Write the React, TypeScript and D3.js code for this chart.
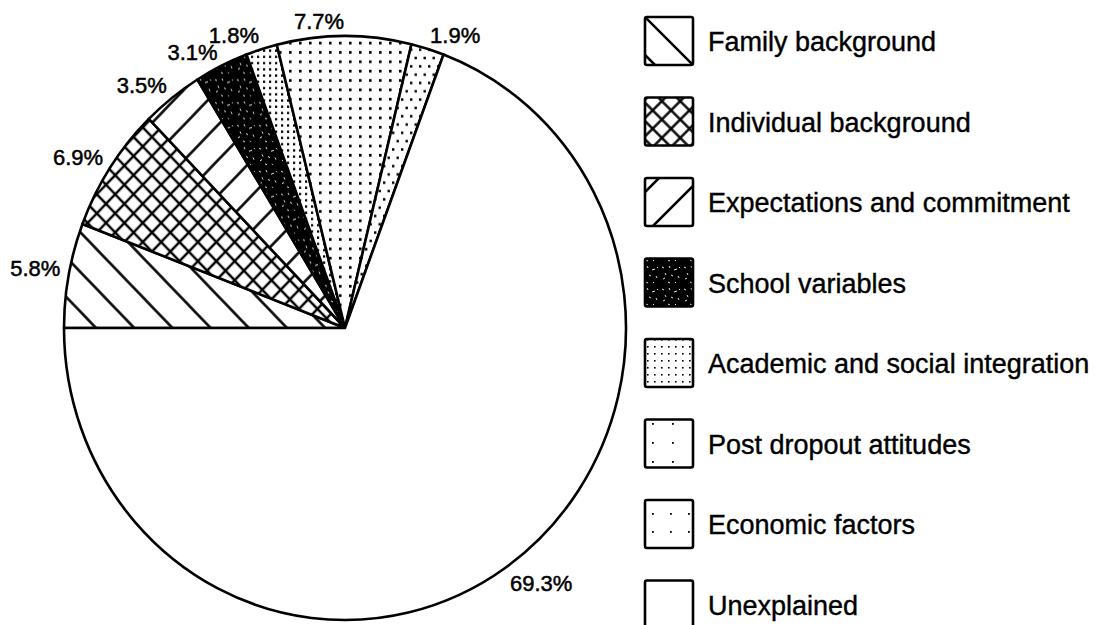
import React from 'react';
import * as d3 from 'd3';

const categories: string[] = [
  'Family background',
  'Individual background',
  'Expectations and commitment',
  'School variables',
  'Academic and social integration',
  'Post dropout attitudes',
  'Economic factors',
  'Unexplained',
];
const shares: number[] = [5.8, 6.9, 3.5, 3.1, 1.8, 7.7, 1.9, 69.3];
const shareLabels: string[] = ['5.8%', '6.9%', '3.5%', '3.1%', '1.8%', '7.7%', '1.9%', '69.3%'];

const W = 1109;
const H = 625;
const CX = 345;
const CY = 328;
const RX = 281;
const RY = 292;

const sliceFills = [
  'url(#p-family)',
  'url(#p-indiv)',
  'url(#p-expect)',
  'url(#p-school)',
  'url(#p-acad)',
  'url(#p-post)',
  'url(#p-econ)',
  '#fff',
];
const legendFills = [
  'url(#l-family)',
  'url(#p-indiv)',
  'url(#l-expect)',
  'url(#p-school)',
  'url(#l-acad)',
  'url(#l-post)',
  'url(#l-econ)',
  '#fff',
];

const FONT = '"Liberation Sans", Arial, Helvetica, sans-serif';

export default function App() {
  const pie = d3
    .pie<number>()
    .sort(null)
    .value((d) => d)
    .startAngle(-Math.PI / 2)
    .endAngle((3 * Math.PI) / 2);
  const arcs = pie(shares);
  const arc = d3.arc<d3.PieArcDatum<number>>().innerRadius(0).outerRadius(RX);
  const sy = RY / RX;

  const legendY = d3.scaleLinear().domain([0, 1]).range([17, 97.5]);

  return (
    <svg
      width={W}
      height={H}
      style={{ position: 'absolute', left: 0, top: 0, background: '#fff' }}
    >
      <defs>
        <pattern id="p-family" width={27} height={27} patternUnits="userSpaceOnUse" patternTransform="rotate(-45)">
          <rect width={27} height={27} fill="#fff" />
          <line x1={13} y1={0} x2={13} y2={27} stroke="#000" strokeWidth={2.5} />
        </pattern>
        <pattern id="p-expect" width={24} height={24} patternUnits="userSpaceOnUse" patternTransform="rotate(45)">
          <rect width={24} height={24} fill="#fff" />
          <line x1={12} y1={0} x2={12} y2={24} stroke="#000" strokeWidth={2.5} />
        </pattern>
        <pattern id="p-indiv" width={13} height={13} patternUnits="userSpaceOnUse" patternTransform="rotate(45)">
          <rect width={13} height={13} fill="#fff" />
          <line x1={6.5} y1={0} x2={6.5} y2={13} stroke="#000" strokeWidth={2.4} />
          <line x1={0} y1={6.5} x2={13} y2={6.5} stroke="#000" strokeWidth={2.4} />
        </pattern>
        <pattern id="p-school" width={22} height={22} patternUnits="userSpaceOnUse">
          <rect width={22} height={22} fill="#000" />
          <path
            d="M2 3l2 1 M9 2l1 2 M14 6l3 -1 M5 9l1 2 M11 11l2 1 M18 12l1 2 M3 15l2 -1 M8 18l2 1 M15 18l1 1 M19 3l1 1"
            stroke="#fff"
            strokeWidth={0.9}
          />
        </pattern>
        <pattern id="p-acad" width={6} height={6} patternUnits="userSpaceOnUse">
          <rect width={6} height={6} fill="#fff" />
          <rect x={2} y={2} width={2.2} height={2.2} fill="#000" />
        </pattern>
        <pattern id="p-post" width={10} height={9} patternUnits="userSpaceOnUse">
          <rect width={10} height={9} fill="#fff" />
          <rect x={4} y={3.5} width={2.6} height={2.6} fill="#000" />
        </pattern>
        <pattern id="p-econ" width={9} height={16} patternUnits="userSpaceOnUse">
          <rect width={9} height={16} fill="#fff" />
          <rect x={2} y={3} width={2.4} height={2.4} fill="#000" />
          <rect x={6.5} y={11} width={2.4} height={2.4} fill="#000" />
        </pattern>
        <pattern id="l-family" x={645} y={17} width={48} height={48} patternUnits="userSpaceOnUse">
          <rect width={48} height={48} fill="#fff" />
          <line x1={0} y1={0} x2={48} y2={48} stroke="#000" strokeWidth={2.5} />
          <line x1={0} y1={38} x2={10} y2={48} stroke="#000" strokeWidth={2.5} />
        </pattern>
        <pattern id="l-expect" x={645} y={178} width={48} height={48} patternUnits="userSpaceOnUse">
          <rect width={48} height={48} fill="#fff" />
          <line x1={8} y1={48} x2={48} y2={8} stroke="#000" strokeWidth={2.5} />
          <line x1={0} y1={14} x2={14} y2={0} stroke="#000" strokeWidth={2.5} />
        </pattern>
        <pattern id="l-acad" width={7} height={7} patternUnits="userSpaceOnUse">
          <rect width={7} height={7} fill="#fff" />
          <rect x={3} y={3} width={1.6} height={1.6} fill="#000" />
        </pattern>
        <pattern id="l-post" width={20} height={19} patternUnits="userSpaceOnUse">
          <rect width={20} height={19} fill="#fff" />
          <rect x={12} y={5} width={1.8} height={1.8} fill="#000" />
        </pattern>
        <pattern id="l-econ" width={18} height={18} patternUnits="userSpaceOnUse">
          <rect width={18} height={18} fill="#fff" />
          <rect x={4} y={9} width={1.8} height={1.8} fill="#000" />
        </pattern>
      </defs>

      <g transform={`translate(${CX},${CY}) scale(1,${sy})`}>
        {arcs.map((a, i) => (
          <path
            key={categories[i]}
            d={arc(a) || ''}
            fill={sliceFills[i]}
            stroke="#000"
            strokeWidth={2.6}
            strokeLinejoin="round"
            vectorEffect="non-scaling-stroke"
          />
        ))}
      </g>

      {arcs.map((a, i) => {
        const mid = (a.startAngle + a.endAngle) / 2;
        const x = CX + 1.03 * RX * Math.sin(mid);
        const y = CY - 1.03 * RY * Math.cos(mid);
        const anchor = x < CX ? 'end' : 'start';
        const ty = y < CY ? y + 2 : y + 16;
        return (
          <text
            key={'lab' + i}
            x={x}
            y={ty}
            textAnchor={anchor}
            fontFamily={FONT}
            fontSize={22}
            fill="#000"
            stroke="#000"
            strokeWidth={0.5}
          >
            {shareLabels[i]}
          </text>
        );
      })}

      {categories.map((c, i) => {
        const y0 = legendY(i);
        return (
          <g key={'leg' + i}>
            <rect
              x={645}
              y={y0}
              width={48}
              height={48}
              rx={2}
              fill={legendFills[i]}
              stroke="#000"
              strokeWidth={2.6}
            />
            <text
              x={708}
              y={y0 + 34}
              fontFamily={FONT}
              fontSize={27}
              fill="#000"
              stroke="#000"
              strokeWidth={0.4}
            >
              {c}
            </text>
          </g>
        );
      })}
    </svg>
  );
}
